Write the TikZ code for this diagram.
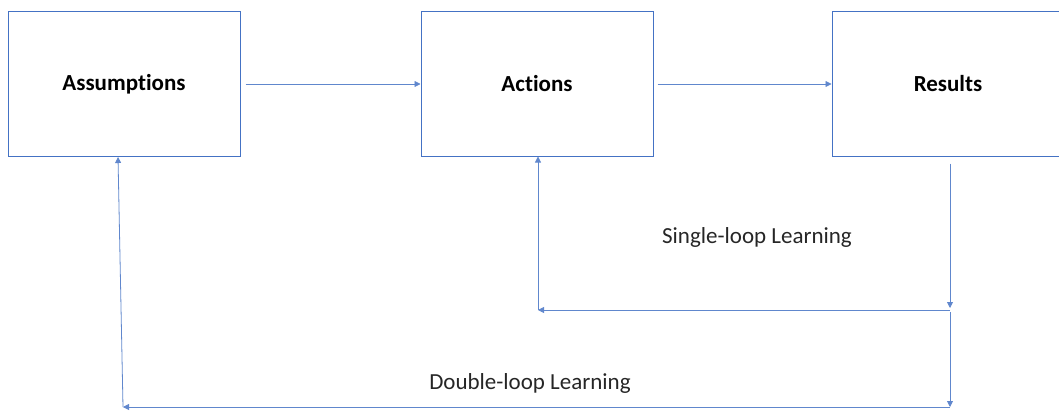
\documentclass[tikz,border=0pt]{standalone}
\usepackage{fontspec}
\setmainfont[Ligatures=NoCommon]{Carlito}
\usetikzlibrary{arrows.meta}
\definecolor{loopblue}{HTML}{4472C4}

\begin{document}
\begin{tikzpicture}[
        x=1pt, y=-1pt,
        stage/.style={draw=loopblue, line width=1pt, minimum width=232pt,
            minimum height=144pt, inner sep=0pt, font=\fontsize{23}{27}\selectfont\bfseries},
        link/.style={draw=loopblue!85, line width=0.8pt,
            -{Triangle[length=6pt,width=6pt]}},
        looplabel/.style={font=\fontsize{23}{27}\selectfont, text=black!85},
    ]
    \useasboundingbox (0,0) rectangle (1059,412);
    \clip (0,0) rectangle (1059,412);

    \node[stage] (assume) at (124,84) {Assumptions};
    \node[stage] (act) at (537,84) {Actions};
    \node[stage] (result) at (948,84) {Results};

    \coordinate (rsplit) at (950,310);
    \coordinate (rlow) at (950,407);
    \coordinate (acorner) at (538,310);
    \coordinate (dcorner) at (123,407);
    \coordinate (atop) at (118,157);

    \draw[link, shorten <=5pt] (assume.east) -- (act.west);
    \draw[link, shorten <=4pt] (act.east) -- (result.west);

    % single loop
    \draw[link, shorten <=7pt, shorten >=2pt] (result.south -| rsplit) -- (rsplit);
    \draw[link] (rsplit) -- (acorner);
    \draw[link] (acorner) -- (act.south -| acorner);

    % double loop
    \draw[link, shorten <=2pt] (rsplit) -- (rlow);
    \draw[link] (rlow) -- (dcorner);
    \draw[link] (dcorner) -- (atop);

    \node[looplabel] (single) at (757,237) {Single-loop Learning};
    \node[looplabel] (double) at (530,383) {Double-loop Learning};
\end{tikzpicture}
\end{document}
